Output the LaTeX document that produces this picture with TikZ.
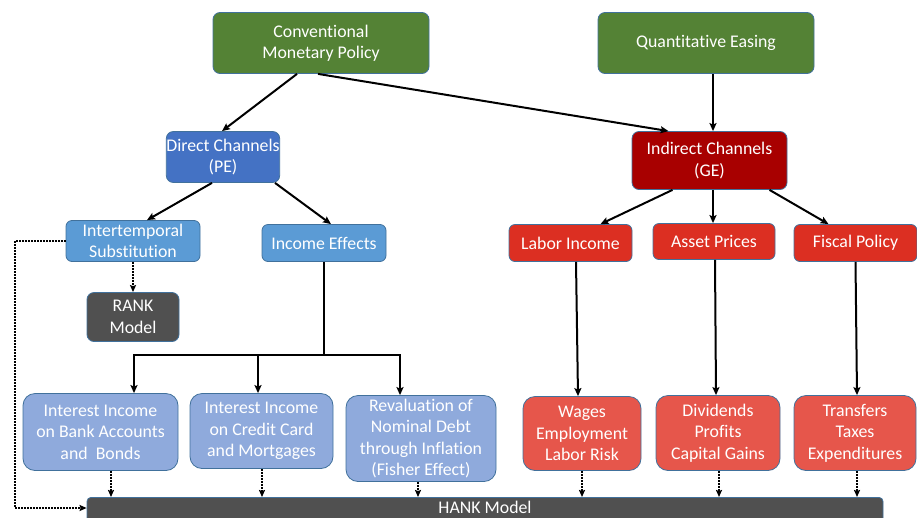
\documentclass[tikz,border=0pt]{standalone}
\usepackage{fontspec}
\setmainfont{Carlito}[Ligatures={NoCommon}]
\usetikzlibrary{arrows.meta}

\definecolor{policygreen}{HTML}{548235}
\definecolor{directblue}{HTML}{4472C4}
\definecolor{midblue}{HTML}{5B9BD5}
\definecolor{paleblue}{HTML}{8FAADC}
\definecolor{deepred}{HTML}{A80000}
\definecolor{brightred}{HTML}{DC2F22}
\definecolor{softred}{HTML}{E6564B}
\definecolor{modelgrey}{HTML}{505050}
\definecolor{edgeblue}{HTML}{41719C}

\begin{document}
\begin{tikzpicture}[x=1pt, y=-1pt,
    box/.style={draw=edgeblue, line width=0.8pt, rounded corners=7pt, text=white,
        align=center, inner sep=0pt, font=\fontsize{17.8}{21.4}\selectfont},
    flow/.style={line width=2pt, -{Stealth[length=8pt, width=7pt, inset=1.5pt]}},
    dots/.style={line width=2.3pt, dash pattern=on 1.6pt off 1.4pt, -{Stealth[length=7pt, width=6pt, inset=1pt]}}]
    \useasboundingbox (0,0) rectangle (917,517);
    \clip (0,0) rectangle (917,517);

    % Policies
    \node[box, fill=policygreen, minimum width=216pt, minimum height=61pt] (cmp) at (321,43) {Conventional\\Monetary Policy};
    \node[box, fill=policygreen, minimum width=216pt, minimum height=61pt] (qe) at (706,43) {Quantitative Easing};

    % Channels
    \node[box, fill=directblue, minimum width=112pt, minimum height=51pt] (direct) at (223,157) {Direct Channels\\(PE)};
    \node[box, fill=deepred, minimum width=155pt, minimum height=58pt] (indirect) at (709.5,160.5) {Indirect Channels\\(GE)};

    % Direct side
    \node[box, fill=midblue, rounded corners=6pt, minimum width=134pt, minimum height=41pt] (intertemp) at (133,241) {Intertemporal\\Substitution};
    \node[box, fill=midblue, rounded corners=6pt, minimum width=124pt, minimum height=37pt] (income) at (324,243) {Income Effects};
    \node[box, fill=modelgrey, minimum width=92pt, minimum height=49pt] (rank) at (133,317) {RANK\\Model};

    % Indirect side
    \node[box, fill=brightred, rounded corners=6pt, minimum width=123pt, minimum height=37pt] (labor) at (570.5,243) {Labor Income};
    \node[box, fill=brightred, rounded corners=6pt, minimum width=122pt, minimum height=36pt] (asset) at (714,241.5) {Asset Prices};
    \node[box, fill=brightred, rounded corners=6pt, minimum width=123pt, minimum height=37pt] (fiscal) at (855.5,243) {Fiscal Policy};

    % Income effects in detail
    \node[box, fill=paleblue, rounded corners=12pt, minimum width=155pt, minimum height=77pt] (bank) at (100.5,432) {Interest Income\\on Bank Accounts\\and~ Bonds};
    \node[box, fill=paleblue, rounded corners=12pt, minimum width=143pt, minimum height=75pt] (credit) at (261.5,431) {Interest Income\\on Credit Card\\and Mortgages};
    \node[box, fill=paleblue, rounded corners=12pt, minimum width=150pt, minimum height=86pt] (reval) at (421,438.5) {Revaluation of\\Nominal Debt\\through Inflation\\(Fisher Effect)};
    \node[box, fill=softred, rounded corners=12pt, minimum width=118pt, minimum height=74pt] (wages) at (582,433.5) {Wages\\Employment\\Labor Risk};
    \node[box, fill=softred, rounded corners=12pt, minimum width=124pt, minimum height=75pt] (divid) at (718,433) {Dividends\\Profits\\Capital Gains};
    \node[box, fill=softred, rounded corners=12pt, minimum width=122pt, minimum height=75pt] (transf) at (855,433) {Transfers\\Taxes\\Expenditures};

    \node[box, fill=modelgrey, rounded corners=4pt, anchor=north, minimum width=796pt,
        text height=16.5pt, text depth=30pt] (hank) at (485,497) {HANK Model};

    % Arrows from the top
    \draw[flow] ([xshift=-24pt]cmp.south) -- ([xshift=-1pt]direct.north);
    \draw[flow] ([xshift=-3pt]cmp.south) -- ([xshift=-41pt]indirect.north);
    \draw[flow] ([xshift=7pt]qe.south) -- ([xshift=3.5pt]indirect.north);

    \draw[flow] ([xshift=-11pt]direct.south) -- ([xshift=14pt]intertemp.north);
    \draw[flow] ([xshift=52pt]direct.south) -- ([xshift=7pt]income.north);

    \draw[flow] ([xshift=-37pt]indirect.south) -- ([xshift=30pt]labor.north);
    \draw[flow] ([xshift=3.5pt]indirect.south) -- ([xshift=-1pt]asset.north);
    \draw[flow] ([xshift=60pt]indirect.south) -- ([xshift=-27pt]fiscal.north);

    % Income effects fan out
    \coordinate (split) at (income.south |- 0,355);
    \draw[line width=2pt] (income.south) -- (split);
    \draw[line width=2pt, line cap=rect] (134,355) -- (400,355);
    \foreach \target/\dx in {bank/33.5, credit/-3.5, reval/-21} {
        \draw[flow] ([xshift=\dx pt]\target.north |- 0,355) -- ([xshift=\dx pt]\target.north);
    }

    % Indirect channels down
    \draw[flow] ([xshift=5.5pt]labor.south) -- ([xshift=-4pt]wages.north);
    \draw[flow] ([xshift=1pt]asset.south) -- ([xshift=-2pt]divid.north);
    \draw[flow] (fiscal.south) -- ([xshift=2pt]transf.north);

    % Dotted links to the models
    \draw[dots] (intertemp.south) -- (rank.north);
    \draw[dots] (intertemp.west) -- (15,241) -- (15,508) -- (hank.west |- 0,508);
    \foreach \source/\dx in {bank/10.5, credit/0.5, reval/-3, wages/0, divid/1, transf/2} {
        \draw[dots] ([xshift=\dx pt]\source.south) -- ([xshift=\dx pt]\source.south |- hank.north);
    }
\end{tikzpicture}
\end{document}
